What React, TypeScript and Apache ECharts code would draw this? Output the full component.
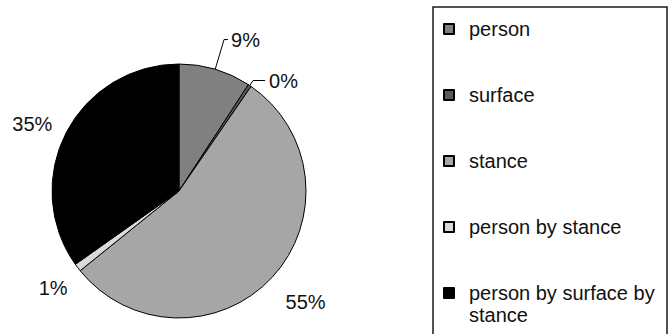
import React, { useEffect, useRef } from "react";
import * as echarts from "echarts";

const categories = [
  "person",
  "surface",
  "stance",
  "person by stance",
  "person by surface by stance",
];
const values = [9.2, 0.4, 54.6, 1.0, 34.8];
const colors = ["#808080", "#5a5a5a", "#a6a6a6", "#dadada", "#000000"];

// label placement tuning (leader line lengths), per slice
const labelLines = [
  { show: true, length: 31, length2: 4, dist: 3 },
  { show: true, length: 6, length2: 12, dist: 4 },
  { show: false, length: 36, length2: -18, dist: 5 },
  { show: false, length: 34, length2: -22, dist: 5 },
  { show: false, length: 19, length2: -8, dist: 5 },
];

const FONT = "'Liberation Sans', Arial, sans-serif";

export default function App() {
  const ref = useRef<HTMLDivElement>(null);
  useEffect(() => {
    if (!ref.current) return;
    const chart = echarts.init(ref.current, undefined, { renderer: "svg" });
    const L = 22;
    const lastName = categories[categories.length - 1];
    const option = {
      animation: false,
      backgroundColor: "#ffffff",
      textStyle: { fontFamily: FONT },
      graphic: [
        {
          type: "rect",
          shape: { x: 433, y: 7, width: 234, height: 332 },
          style: { fill: "none", stroke: "#1a1a1a", lineWidth: 1.5 },
          silent: true,
        },
      ],
      legend: {
        orient: "vertical",
        left: 443,
        top: -4,
        padding: 0,
        itemGap: 0,
        itemWidth: 10,
        itemHeight: 10,
        icon: "rect",
        selectedMode: false,
        formatter: (name: string) => (name === lastName ? "\n" + name : name),
        textStyle: {
          fontFamily: FONT,
          fontSize: 20,
          color: "#111",
          lineHeight: L,
          width: 195,
          overflow: "break",
          backgroundColor: "rgba(0,0,0,0)",
        },
        data: categories.map((name, i) => ({
          name,
          textStyle: {
            padding: i === categories.length - 1 ? [0, 0, 0, 10] : [L, 0, L, 10],
          },
        })),
      },
      series: [
        {
          type: "pie",
          center: [179, 191],
          radius: 127,
          startAngle: 90,
          clockwise: true,
          avoidLabelOverlap: false,
          itemStyle: { borderColor: "#000", borderWidth: 1 },
          label: {
            show: true,
            position: "outside",
            fontFamily: FONT,
            fontSize: 20,
            color: "#111",
            formatter: (p: any) => Math.round(p.value) + "%",
          },
          labelLine: {
            lineStyle: { color: "#000", width: 1 },
          },
          emphasis: { disabled: true },
          data: categories.map((name, i) => ({
            name,
            value: values[i],
            itemStyle: { color: colors[i] },
            label: { distanceToLabelLine: labelLines[i].dist },
            labelLine: {
              show: labelLines[i].show,
              length: labelLines[i].length,
              length2: labelLines[i].length2,
            },
          })),
        },
      ],
    };
    chart.setOption(option as any);
    return () => chart.dispose();
  }, []);
  return (
    <div
      ref={ref}
      style={{ position: "fixed", left: 0, top: 0, width: 670, height: 334 }}
    />
  );
}
